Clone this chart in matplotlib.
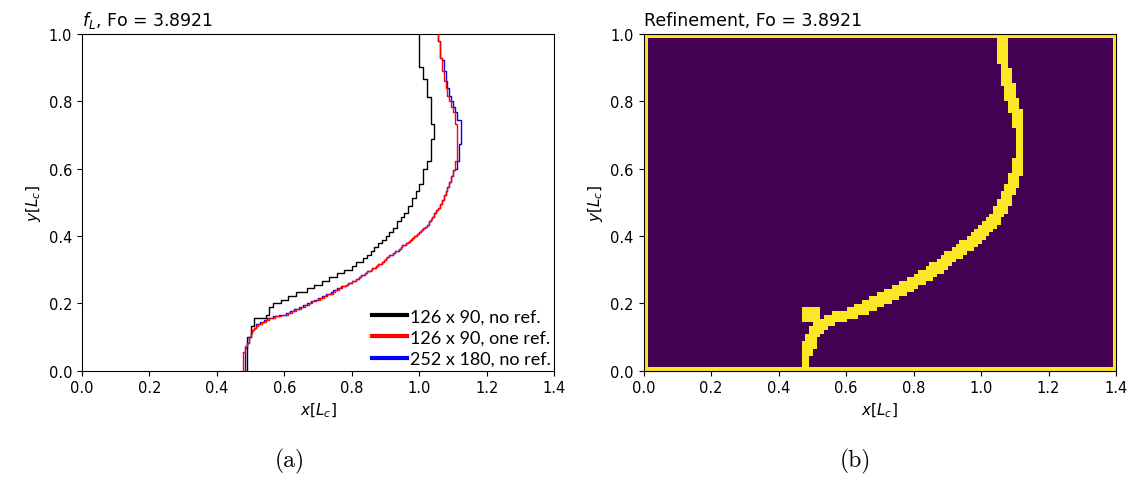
import numpy as np
import matplotlib
matplotlib.use("Agg")
import matplotlib.pyplot as plt

# Domain size in characteristic lengths
LX, LY = 1.4, 1.0
FO = 3.8921

# Melt front column index for every grid row (column width = row height = 1 / n_rows)
# 126 x 90 grid, no refinement
coarse_cols = ([44] * 9 + [45] * 3 + [46] * 2 + [49] + [50] * 2
               + [51, 53, 55, 57, 60, 62, 64, 66, 68, 70, 72, 73, 75, 76, 77, 78, 79, 80, 81, 82, 83]
               + [84] * 2 + [85, 86] + [87] * 2 + [88] * 2 + [89] * 2 + [90] * 2 + [91] * 4
               + [92] * 2 + [93] * 6 + [94] * 4 + [93] * 7 + [92] * 5 + [91] * 3 + [90] * 9)

# 126 x 90 grid with one refinement level (effective 252 x 180)
refined_cols = ([86] * 10 + [87] * 3 + [88] * 2 + [89] * 3 + [90] * 2 + [91] * 2
                + [92, 93, 94, 96, 98, 100, 103, 106, 110, 112,
                   114, 117, 119, 121, 123, 125, 127, 129, 131, 134,
                   135, 137, 139, 141, 142, 144, 146, 148, 149, 151,
                   152, 154, 155, 157, 158, 160, 161, 162, 163, 164,
                   166, 167, 169, 170, 171, 173, 174, 175, 176, 177,
                   179, 180, 181, 182, 183, 184, 185, 185, 186, 187]
                + [188] * 2 + [189] * 2 + [190] + [191] * 2 + [192] * 2 + [193] * 3
                + [194] * 2 + [195] * 2 + [196] * 3 + [197] * 3 + [198] * 3 + [199] * 5
                + [200] * 20 + [199] * 6 + [198] * 3 + [197] * 3 + [196] * 3 + [195] * 4
                + [194] * 4 + [193] * 5 + [192] * 7 + [191] * 9 + [190] * 4)

# 252 x 180 grid, no refinement
fine_cols = ([87] * 12 + [88] * 3 + [89] * 3 + [90] * 2 + [91] * 2
             + [92, 93, 93, 95, 97, 99, 102, 105, 109, 111,
                113, 116, 118, 120, 122, 124, 126, 128, 130, 133,
                134, 136, 138, 141, 142, 144, 146, 148, 149, 151,
                152, 154, 155, 157, 158, 160, 161, 162, 163, 164,
                166, 167, 169, 170, 171, 173, 174, 175, 176, 177,
                179, 180, 181, 182, 183, 184]
             + [185] * 2 + [186, 187] + [188] * 2 + [189] * 2 + [190] + [191] * 2
             + [192] * 2 + [193] * 3 + [194] * 2 + [195] * 2 + [196] * 3 + [197] * 3
             + [198] * 3 + [199] + [200] * 4 + [201] * 9 + [202] * 13 + [200] * 4
             + [199] * 3 + [198] * 3 + [197] * 3 + [196] * 4 + [195] * 4 + [194] * 5
             + [193] * 6 + [192] + [191] * 9 + [190] * 4)

series_labels = ["126 x 90, no ref.", "126 x 90, one ref.", "252 x 180, no ref."]
series_colors = ["black", "red", "blue"]

# Coarse grid for the refinement flag field
NX, NY = 126, 90
FLAG_RADIUS = 1.2          # in coarse cells, max-norm distance to the front
# Extra flagged cells near the mushy corner (row range, column range)
extra_rows = (13, 16)
extra_cols = (42, 46)


def staircase(cols):
    n = len(cols)
    h = LY / n
    xs = np.repeat(np.asarray(cols, float) * h, 2)
    ys = np.repeat(np.arange(n + 1), 2)[1:-1] * h
    return xs, ys


def refinement_field(front_cols):
    cell = LY / NY
    xc = (np.arange(NX) + 0.5) * cell
    yc = (np.arange(NY) + 0.5) * cell
    X, Y = np.meshgrid(xc, yc)
    px, py = staircase(front_cols)
    x0 = np.minimum(px[:-1], px[1:]); x1 = np.maximum(px[:-1], px[1:])
    y0 = np.minimum(py[:-1], py[1:]); y1 = np.maximum(py[:-1], py[1:])
    Xf = X.ravel()[:, None]
    Yf = Y.ravel()[:, None]
    dx = np.maximum(np.maximum(x0[None] - Xf, Xf - x1[None]), 0)
    dy = np.maximum(np.maximum(y0[None] - Yf, Yf - y1[None]), 0)
    d = np.maximum(dx, dy).min(1).reshape(NY, NX)
    flag = (d <= FLAG_RADIUS * cell).astype(float)
    flag[0, :] = flag[-1, :] = 1
    flag[:, 0] = flag[:, -1] = 1
    flag[extra_rows[0]:extra_rows[1] + 1, extra_cols[0]:extra_cols[1] + 1] = 1
    return flag


fig = plt.figure(figsize=(11.37, 4.81), dpi=100)
ax1 = fig.add_axes([0.0719, 0.2272, 0.4156, 0.7006])
ax2 = fig.add_axes([0.5660, 0.2272, 0.4156, 0.7006])

# (a) melt front comparison
zorders = [3, 4, 2]
for cols, lab, col, z in zip([coarse_cols, refined_cols, fine_cols], series_labels, series_colors, zorders):
    xs, ys = staircase(cols)
    ax1.plot(xs, ys, color=col, lw=1.0, label=lab, zorder=z)

ax1.set_xlim(0, LX)
ax1.set_ylim(0, LY)
ax1.set_xticks(np.arange(0, 1.41, 0.2))
ax1.set_yticks(np.arange(0, 1.01, 0.2))
ax1.set_xlabel(r"$x[L_c]$", fontsize=11)
ax1.set_ylabel(r"$y[L_c]$", fontsize=11)
ax1.set_title(r"$f_L$, Fo = %.4f" % FO, loc="left", fontsize=12.5)
leg = ax1.legend(loc="lower right", frameon=False, prop={"family": "Lato", "size": 13},
                 handlelength=1.95, handletextpad=0.15, labelspacing=0.3,
                 borderaxespad=0.0, borderpad=0.2)
for h in leg.get_lines():
    h.set_linewidth(3)

# (b) refinement flags
flag = refinement_field(refined_cols)
ax2.imshow(flag, origin="lower", extent=[0, LX, 0, LY], cmap="viridis",
           interpolation="nearest", aspect="auto", vmin=0, vmax=1)
ax2.set_xlim(0, LX)
ax2.set_ylim(0, LY)
ax2.set_xticks(np.arange(0, 1.41, 0.2))
ax2.set_yticks(np.arange(0, 1.01, 0.2))
ax2.set_xlabel(r"$x[L_c]$", fontsize=11)
ax2.set_ylabel(r"$y[L_c]$", fontsize=11)
ax2.set_title("Refinement, Fo = %.4f" % FO, loc="left", fontsize=12.5)

for ax in (ax1, ax2):
    ax.tick_params(labelsize=10.5)

fig.text(0.255, 0.04, "(a)", family="cmr10", fontsize=17, ha="center", va="center")
fig.text(0.752, 0.04, "(b)", family="cmr10", fontsize=17, ha="center", va="center")

fig.savefig("out.png", dpi=100)
